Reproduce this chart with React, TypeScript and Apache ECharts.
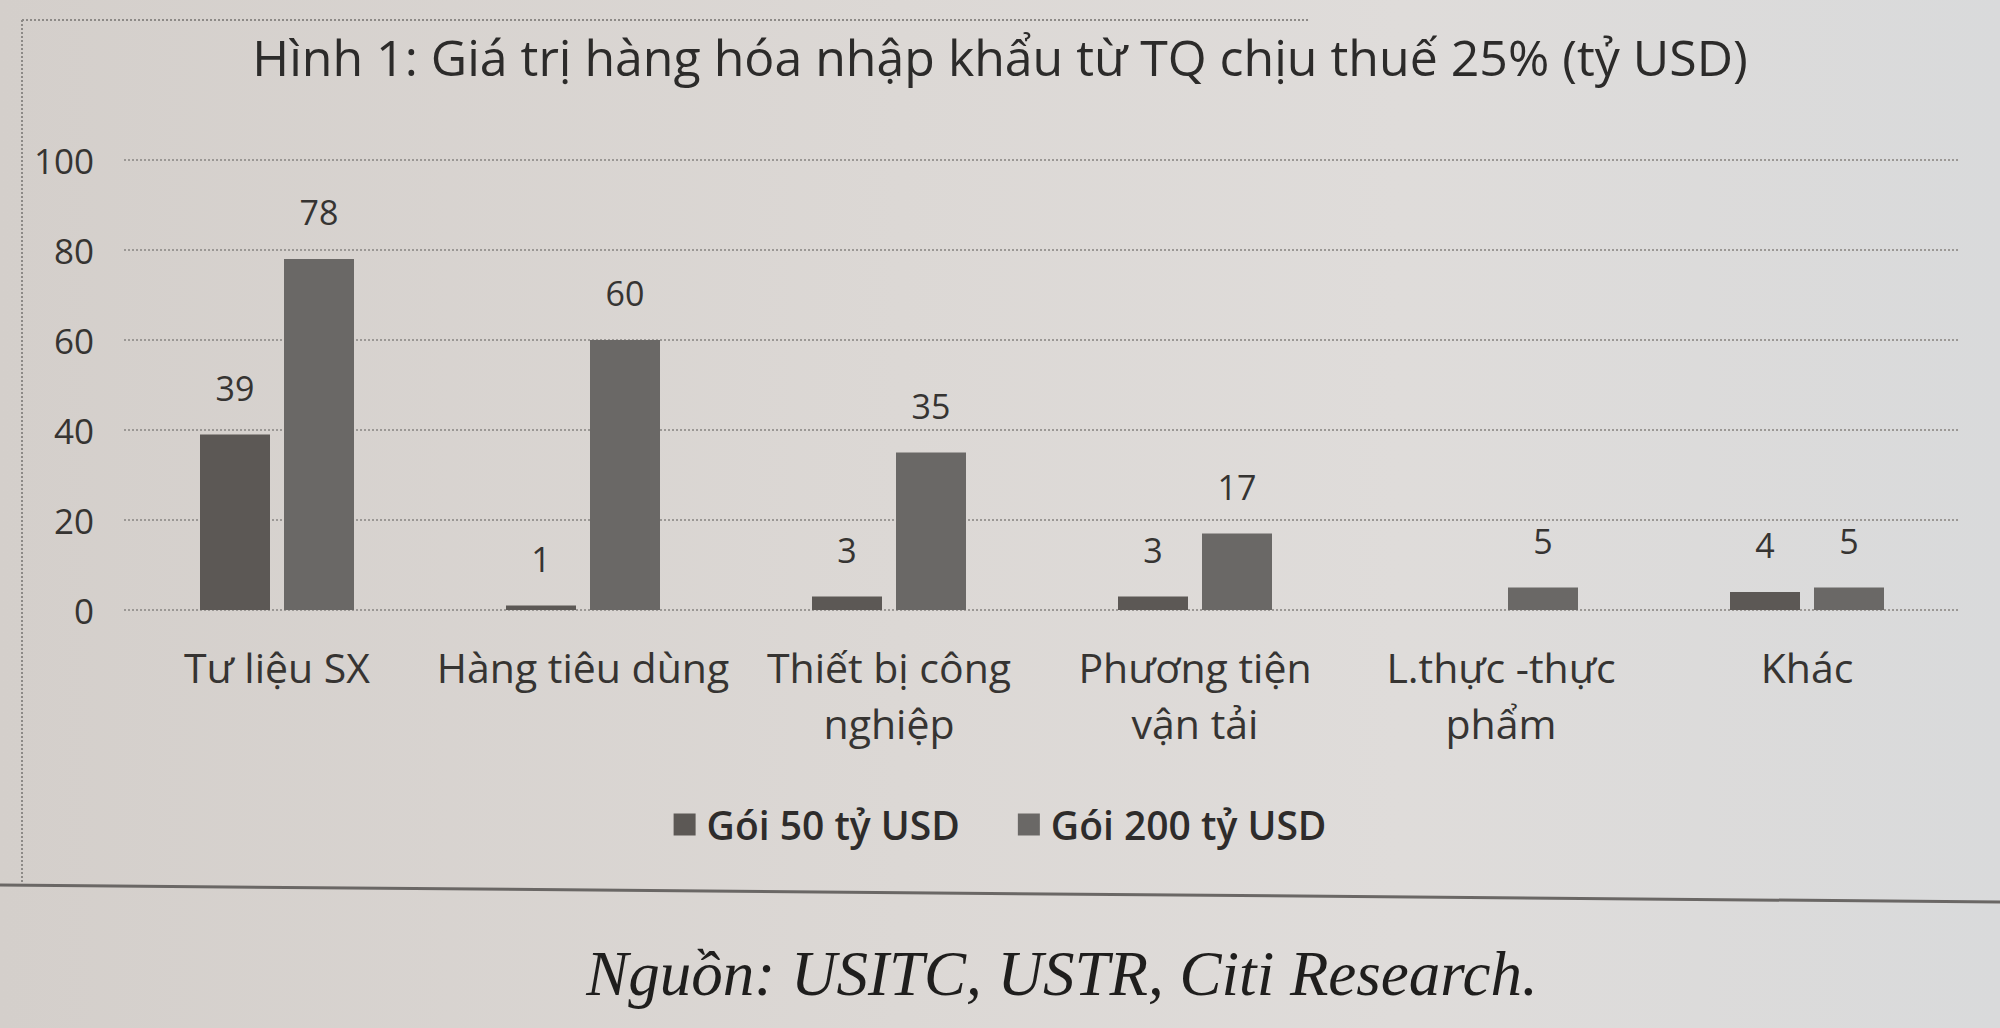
import React, { useEffect, useRef } from "react";
import * as echarts from "echarts";

const categories = [
  "Tư liệu SX",
  "Hàng tiêu dùng",
  "Thiết bị công\nnghiệp",
  "Phương tiện\nvận tải",
  "L.thực -thực\nphẩm",
  "Khác",
];
const goi50 = [39, 1, 3, 3, null, 4];
const goi200 = [78, 60, 35, 17, 5, 5];
const seriesNames = ["Gói 50 tỷ USD", "Gói 200 tỷ USD"];
const titleText = "Hình 1: Giá trị hàng hóa nhập khẩu từ TQ chịu thuế 25% (tỷ USD)";
const sourceText = "Nguồn: USITC, USTR, Citi Research.";
const yTicks = { min: 0, max: 100, interval: 20 };

const FONT = '"Open Sans", "Noto Sans", sans-serif';
const TXT = "#363432";

export default function App() {
  const ref = useRef<HTMLDivElement>(null);
  useEffect(() => {
    document.body.style.margin = "0";
    const chart = echarts.init(ref.current!, null, { renderer: "svg" });
    const labelStyle = {
      show: true,
      position: "top",
      distance: 30,
      fontFamily: FONT,
      fontSize: 34,
      color: TXT,
    };
    chart.setOption({
      animation: false,
      backgroundColor: "transparent",
      title: {
        text: titleText,
        left: "center",
        top: 27,
        textStyle: { fontFamily: FONT, fontSize: 50, fontWeight: "normal", color: "#2c2b2a" },
      },
      legend: {
        data: seriesNames,
        left: "center",
        top: 800,
        icon: "rect",
        itemWidth: 22,
        itemHeight: 22,
        itemGap: 58,
        textStyle: { fontFamily: FONT, fontSize: 39, fontWeight: 600, color: "#2e2c2b", padding: [0, 0, 0, 6] },
      },
      grid: { left: 124, right: 40, top: 160, bottom: 418, containLabel: false },
      xAxis: {
        type: "category",
        data: categories,
        axisLine: { show: false },
        axisTick: { show: false },
        axisLabel: {
          interval: 0,
          margin: 29,
          fontFamily: FONT,
          fontSize: 41,
          lineHeight: 56,
          color: TXT,
        },
      },
      yAxis: {
        type: "value",
        min: yTicks.min,
        max: yTicks.max,
        interval: yTicks.interval,
        axisLine: { show: false },
        axisTick: { show: false },
        axisLabel: { margin: 30, fontFamily: FONT, fontSize: 35, color: TXT },
        splitLine: { show: true, lineStyle: { color: "#9b9895", width: 2, type: "dotted" } },
      },
      series: [
        {
          name: seriesNames[0],
          type: "bar",
          data: goi50,
          barWidth: 70,
          barGap: "20%",
          itemStyle: { color: "#5c5855" },
          label: labelStyle,
        },
        {
          name: seriesNames[1],
          type: "bar",
          data: goi200,
          barWidth: 70,
          itemStyle: { color: "#6a6866" },
          label: labelStyle,
        },
      ],
      graphic: [
        {
          type: "line",
          shape: { x1: 22, y1: 20, x2: 1310, y2: 20 },
          style: { stroke: "#8d8a87", lineWidth: 2, lineDash: [2, 2] },
        },
        {
          type: "line",
          shape: { x1: 22, y1: 20, x2: 22, y2: 884 },
          style: { stroke: "#8d8a87", lineWidth: 2, lineDash: [2, 2] },
        },
        {
          type: "line",
          shape: { x1: 0, y1: 885, x2: 2000, y2: 902 },
          style: { stroke: "#6a6765", lineWidth: 3 },
        },
        {
          type: "text",
          x: 1062,
          y: 974,
          style: {
            text: sourceText,
            x: 0,
            y: 0,
            align: "center",
            verticalAlign: "middle",
            fontFamily: '"Liberation Serif", "DejaVu Serif", serif',
            fontStyle: "italic",
            fontSize: 63,
            fill: "#1f1e1d",
          },
        },
      ],
    });
    return () => chart.dispose();
  }, []);
  return (
    <div
      ref={ref}
      style={{
        position: "absolute",
        left: 0,
        top: 0,
        width: 2000,
        height: 1028,
        background: "linear-gradient(90deg, #d4cfcb 0%, #dcd8d5 45%, #dfdcda 70%, #d9dadb 100%)",
      }}
    />
  );
}
